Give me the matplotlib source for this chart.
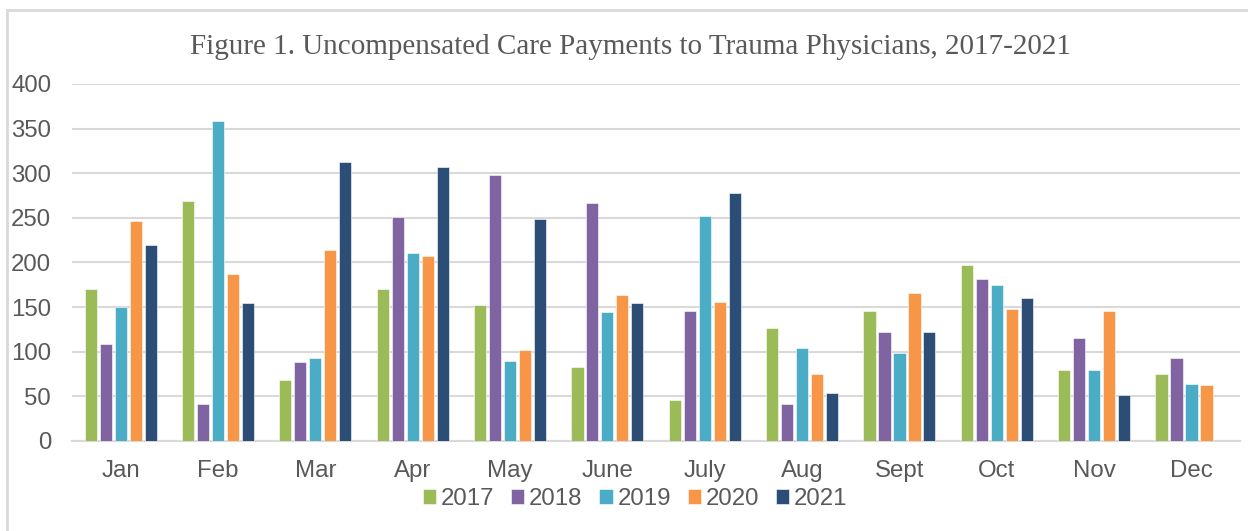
import numpy as np
import matplotlib
matplotlib.use('Agg')
import matplotlib.pyplot as plt
from matplotlib.patches import Rectangle

months = ['Jan', 'Feb', 'Mar', 'Apr', 'May', 'June', 'July', 'Aug', 'Sept', 'Oct', 'Nov', 'Dec']
years = ['2017', '2018', '2019', '2020', '2021']

# valori
v2017 = [170, 269, 68, 170, 152, 83, 46, 127, 146, 197, 80, 75]
v2018 = [109, 41, 89, 251, 298, 267, 146, 42, 122, 182, 115, 93]
v2019 = [150, 358, 93, 211, 90, 145, 252, 104, 99, 175, 80, 64]
v2020 = [246, 187, 214, 207, 102, 163, 156, 75, 166, 148, 146, 63]
v2021 = [219, 155, 313, 307, 249, 155, 278, 54, 122, 160, 52, np.nan]

series = [v2017, v2018, v2019, v2020, v2021]
colori = ['#9BBB59', '#8064A2', '#4BACC6', '#F79646', '#2C4D75']

plt.rcParams['font.family'] = ['Liberation Sans', 'DejaVu Sans']

fig = plt.figure(figsize=(12.48, 5.31), dpi=100)
ax = fig.add_axes([0.0577, 0.1695, 0.936, 0.6725])

x = np.arange(len(months))
step = 0.154
width = 0.125
for i, (vals, col, yr) in enumerate(zip(series, colori, years)):
    ax.bar(x + (i - 2) * step, vals, width=width, color=col, label=yr,
           edgecolor='white', linewidth=0.4, zorder=3)

ax.set_xlim(-0.5, len(months) - 0.5)
ax.set_ylim(0, 400)
ax.set_yticks(range(0, 401, 50))
ax.set_xticks(x)
ax.set_xticklabels(months)
ax.grid(axis='y', color='#D9D9D9', linewidth=1.5, zorder=0)
for s in ['top', 'right', 'left']:
    ax.spines[s].set_visible(False)
ax.spines['bottom'].set_color('#D9D9D9')
ax.spines['bottom'].set_linewidth(1.5)
ax.tick_params(axis='both', length=0, labelsize=17.3, labelcolor='#595959')
ax.tick_params(axis='y', pad=15)
ax.tick_params(axis='x', pad=14)

fig.text(0.505, 0.912, 'Figure 1. Uncompensated Care Payments to Trauma Physicians, 2017-2021',
         ha='center', va='center', fontsize=21, color='#595959', family='Liberation Serif')

leg = fig.legend(loc='center', bbox_to_anchor=(0.509, 0.06), ncol=5, frameon=False,
                 fontsize=17.3, handlelength=0.55, handleheight=0.55, handletextpad=0.2,
                 columnspacing=0.7)
for t in leg.get_texts():
    t.set_color('#595959')

# bordo (solo lato sinistro e superiore visibili)
fig.patches.append(Rectangle((7 / 1248, -0.2), 2.0, 0.2 + 1 - 10 / 531, transform=fig.transFigure,
                             fill=False, edgecolor='#D9D9D9', linewidth=2))

fig.savefig('out.png', dpi=100)
